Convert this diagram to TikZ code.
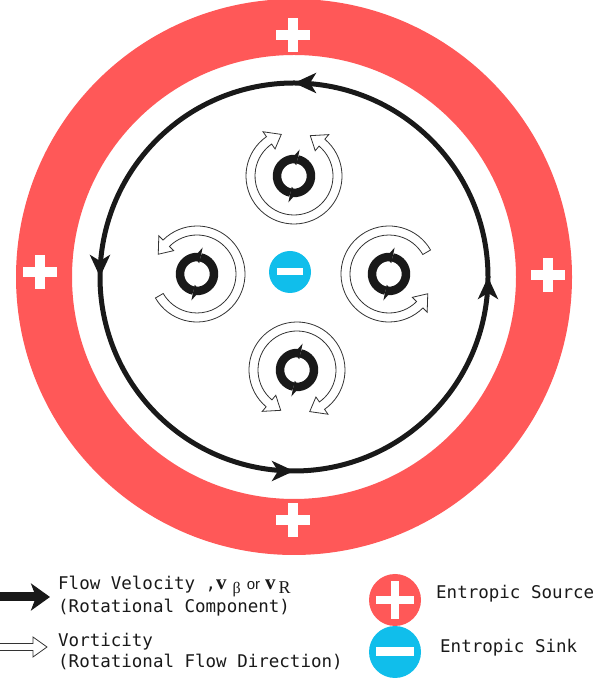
\documentclass[tikz,border=0pt]{standalone}
\usepackage{fontspec}
\newfontfamily\legfont{DejaVu Sans Mono}
\newfontfamily\seriffont{Liberation Serif}
\newfontfamily\orfont{Liberation Sans}
\usetikzlibrary{arrows.meta,decorations.markings}
\definecolor{ringred}{RGB}{255,88,88}
\definecolor{sinkblue}{RGB}{16,190,235}
% open vorticity band, head at end
\newcommand\vsingle[3]{%
  \draw[vort] ([shift={(#2:48pt)}]#1) arc[start angle=#2, end angle=#3, radius=48pt]
    -- ([shift={(#3:54pt)}]#1) -- ([shift={({#3+18}:43.5pt)}]#1) -- ([shift={(#3:33pt)}]#1)
    -- ([shift={(#3:39pt)}]#1) arc[start angle=#3, end angle=#2, radius=39pt] -- cycle;}
% open vorticity band, heads at both ends
\newcommand\vdouble[3]{%
  \draw[vort] ([shift={(#2:39pt)}]#1) -- ([shift={(#2:33pt)}]#1) -- ([shift={({#2-18}:43.5pt)}]#1)
    -- ([shift={(#2:54pt)}]#1) -- ([shift={(#2:48pt)}]#1) arc[start angle=#2, end angle=#3, radius=48pt]
    -- ([shift={(#3:54pt)}]#1) -- ([shift={({#3+18}:43.5pt)}]#1) -- ([shift={(#3:33pt)}]#1)
    -- ([shift={(#3:39pt)}]#1) arc[start angle=#3, end angle=#2, radius=39pt] -- cycle;}
% black rotation icon
\newcommand\spinicon[1]{%
  \draw[spin] ([shift={(266:17pt)}]#1) arc[start angle=266, end angle=438, radius=17pt];
  \fill[black!90] ([shift={(438:11pt)}]#1) -- ([shift={(460:17pt)}]#1) -- ([shift={(438:27pt)}]#1) -- cycle;
  \draw[spin] ([shift={(86:17pt)}]#1) arc[start angle=86, end angle=258, radius=17pt];
  \fill[black!90] ([shift={(258:11pt)}]#1) -- ([shift={(280:17pt)}]#1) -- ([shift={(258:27pt)}]#1) -- cycle;}
% white plus sign: centre, half length, half thickness
\newcommand\plussign[3]{%
  \fill[white] ([shift={(-#2,-#3)}]#1) rectangle ([shift={(#2,#3)}]#1);
  \fill[white] ([shift={(-#3,-#2)}]#1) rectangle ([shift={(#3,#2)}]#1);}
\begin{document}
\begin{tikzpicture}[x=1pt,y=1pt,
  vort/.style={draw=black!80, line width=0.8pt, fill=white, line join=miter},
  spin/.style={draw=black!90, line width=8.5pt},
  flowline/.style={draw=black!90, line width=5pt},
  flowtip/.style={},
  txt/.style={inner sep=0pt, text=black!90, font=\legfont\fontsize{17.5}{20}\selectfont}]
\useasboundingbox (0,0) rectangle (608,679);
\coordinate (C) at (294,402);
% entropic source ring
\fill[ringred, even odd rule] (C) circle[radius=278pt] (C) circle[radius=222pt];
\coordinate (pt) at (293,644);
\coordinate (pl) at (40,407);
\coordinate (pr) at (548,404);
\coordinate (pb) at (293,159);
\plussign{pt}{17pt}{5pt}
\plussign{pl}{17pt}{5pt}
\plussign{pr}{17pt}{5pt}
\plussign{pb}{17pt}{5pt}
% flow circle
\draw[flowline, postaction={decorate}, decoration={markings,
   mark=at position 0.125 with {\arrow{Stealth[length=22pt,width=20pt,inset=6pt]}},
   mark=at position 0.375 with {\arrow{Stealth[length=22pt,width=20pt,inset=6pt]}},
   mark=at position 0.625 with {\arrow{Stealth[length=22pt,width=20pt,inset=6pt]}},
   mark=at position 0.875 with {\arrow{Stealth[length=22pt,width=20pt,inset=6pt]}}}]
   ([shift={(-45:194pt)}]C) arc[start angle=-45, end angle=315, radius=194pt];
% central sink
\coordinate (S) at (290,407);
\fill[sinkblue] (S) circle[radius=21pt];
\fill[white] ([shift={(-13pt,-3.5pt)}]S) rectangle ([shift={(13pt,3.5pt)}]S);
% vortices
\coordinate (Vt) at (294,503);
\coordinate (Vb) at (297,309);
\coordinate (Vl) at (197,405);
\coordinate (Vr) at (389,405);
\vdouble{Vt}{125}{410}
\vdouble{Vb}{305}{590}
\vsingle{Vl}{210}{495}
\vsingle{Vr}{30}{315}
\spinicon{Vt}
\spinicon{Vb}
\spinicon{Vl}
\spinicon{Vr}
% legend: flow arrow
\coordinate (fa) at (0,82);
\coordinate (fb) at (50,82);
\draw[draw=black!90, line width=9pt, -{Stealth[length=19pt,width=27pt,inset=5pt]}] (fa) -- (fb);
% legend: vorticity arrow
\coordinate (wa) at (0,32);
\draw[vort] (wa) ++(0,3.5) -- ++(33,0) -- ++(0,6.5) -- ++(14,-10) -- ++(-14,-10) -- ++(0,6.5) -- ++(-33,0);
% legend circles
\coordinate (ls) at (395,79);
\coordinate (lk) at (395,27);
\fill[ringred] (ls) circle[radius=26pt];
\plussign{ls}{19pt}{4pt}
\fill[sinkblue] (lk) circle[radius=26pt];
\fill[white] ([shift={(-19pt,-4.5pt)}]lk) rectangle ([shift={(19pt,4.5pt)}]lk);
% legend texts
\node[txt, anchor=base west] (flow1) at (58,89) {Flow Velocity ,{\seriffont\bfseries\fontsize{21}{20}\selectfont v}\hspace{6pt}\raisebox{-4pt}{\seriffont\fontsize{16}{16}\selectfont β}\hspace{6pt}{\orfont\fontsize{15}{15}\selectfont or}\hspace{5pt}{\seriffont\bfseries\fontsize{21}{20}\selectfont v}\hspace{3pt}\raisebox{-4pt}{\seriffont\fontsize{18}{18}\selectfont R}};
\node[txt, anchor=base west] (flow2) at (58,66) {(Rotational Component)};
\node[txt, anchor=base west] (vort1) at (58,32) {Vorticity};
\node[txt, anchor=base west] (vort2) at (58,12) {(Rotational Flow Direction)};
\node[txt, anchor=base west] (src) at (436,80) {Entropic Source};
\node[txt, anchor=base west] (snk) at (440,26) {Entropic Sink};
\end{tikzpicture}
\end{document}
